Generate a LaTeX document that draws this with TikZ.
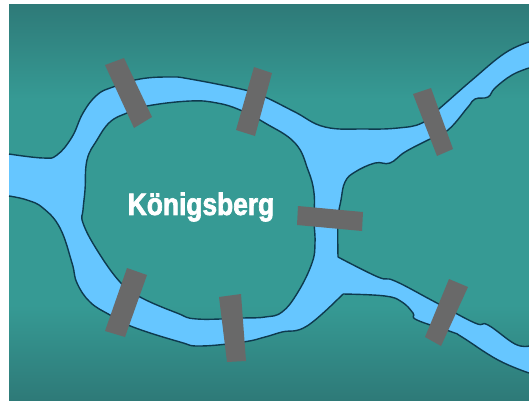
\documentclass[tikz,border=0pt]{standalone}
\usepackage{fontspec}
\newfontfamily\townfont[FakeStretch=0.85,FakeBold=2.2]{Liberation Sans Bold}
\definecolor{landdark}{HTML}{2E7A78}
\definecolor{landmid}{HTML}{369A94}
\definecolor{riverblue}{HTML}{66C6FF}
\definecolor{bankdark}{HTML}{0E3A4E}
\definecolor{bridgegray}{HTML}{696969}
\pgfdeclareverticalshading{landfade}{100bp}{color(0bp)=(landdark); color(25bp)=(landdark); color(37bp)=(landmid); color(63bp)=(landmid); color(75bp)=(landdark); color(100bp)=(landdark)}
\tikzset{
    bank/.style={draw=bankdark, line width=1.4pt, smooth, tension=0.7},
    bridge/.style={fill=bridgegray}
}
\newcommand{\bankNorth}{(9,154) (43,158) (57,155) (72,137) (83,113) (97,95) (113,87) (140,79) (170,77) (190,79) (245,90) (265,97) (295,112) (325,127) (365,129) (398,128) (422,123) (440,108) (472,80) (505,53) (529,42)}
\newcommand{\bankEast}{(529,68) (512,75) (495,88) (488,97) (475,99) (468,107) (448,130) (428,140) (405,152) (390,163) (375,163) (355,172) (345,182) (341,200) (338,220) (338,257)}
\newcommand{\bankDelta}{(338,257) (378,277) (395,281) (435,302) (475,323) (488,325) (515,344) (529,346)}
\newcommand{\bankLow}{(529,373) (498,360) (462,337) (452,332) (417,320) (413,313) (402,302) (385,296) (343,294)}
\newcommand{\bankSouth}{(343,294) (307,326) (282,332) (265,337) (243,342) (200,346) (180,342) (133,327) (110,315) (90,302) (77,283) (72,263) (60,228) (43,208) (27,200) (9,196)}
\newcommand{\bankTown}{(85,190) (87,160) (97,140) (110,122) (127,113) (147,106) (190,101) (217,103) (240,110) (265,123) (295,143) (308,170) (314,193) (314,220) (315,243) (312,263) (298,292) (282,312) (265,317) (243,318) (197,319) (177,313) (140,297) (120,282) (97,250) (83,223) (83,210)}
\begin{document}
\begin{tikzpicture}[x=1pt, y=-1pt]
    \useasboundingbox (0,0) rectangle (529,400);
    \shade[shading=landfade] (9,4) rectangle (529,400);
    \fill[riverblue, even odd rule]
        plot[smooth, tension=0.7] coordinates {\bankNorth}
        -- plot[smooth, tension=0.7] coordinates {\bankEast}
        -- plot[smooth, tension=0.7] coordinates {\bankDelta}
        -- plot[smooth, tension=0.7] coordinates {\bankLow}
        -- plot[smooth, tension=0.7] coordinates {\bankSouth}
        -- cycle
        plot[smooth cycle, tension=0.7] coordinates {\bankTown};
    \draw[bank] plot coordinates {\bankNorth};
    \draw[bank] plot coordinates {\bankEast};
    \draw[bank] plot coordinates {\bankDelta};
    \draw[bank] plot coordinates {\bankLow};
    \draw[bank] plot coordinates {\bankSouth};
    \draw[bank, smooth cycle] plot coordinates {\bankTown};
    \fill[bridge] (105,65) -- (124,58) -- (152,117) -- (134,128) -- cycle;
    \fill[bridge] (254,67) -- (272,73) -- (255,136) -- (236,130) -- cycle;
    \fill[bridge] (413,94) -- (431,88) -- (453,149) -- (437,156) -- cycle;
    \fill[bridge] (298,206) -- (363,212) -- (362,231) -- (297,225) -- cycle;
    \fill[bridge] (449,279) -- (468,287) -- (441,346) -- (425,337) -- cycle;
    \fill[bridge] (127,268) -- (147,275) -- (125,337) -- (105,331) -- cycle;
    \fill[bridge] (219,297) -- (241,294) -- (246,361) -- (227,362) -- cycle;
    \node[text=white, inner sep=0pt, font=\townfont\fontsize{31}{31}\selectfont] (town) at (201,207) {Königsberg};
\end{tikzpicture}
\end{document}
